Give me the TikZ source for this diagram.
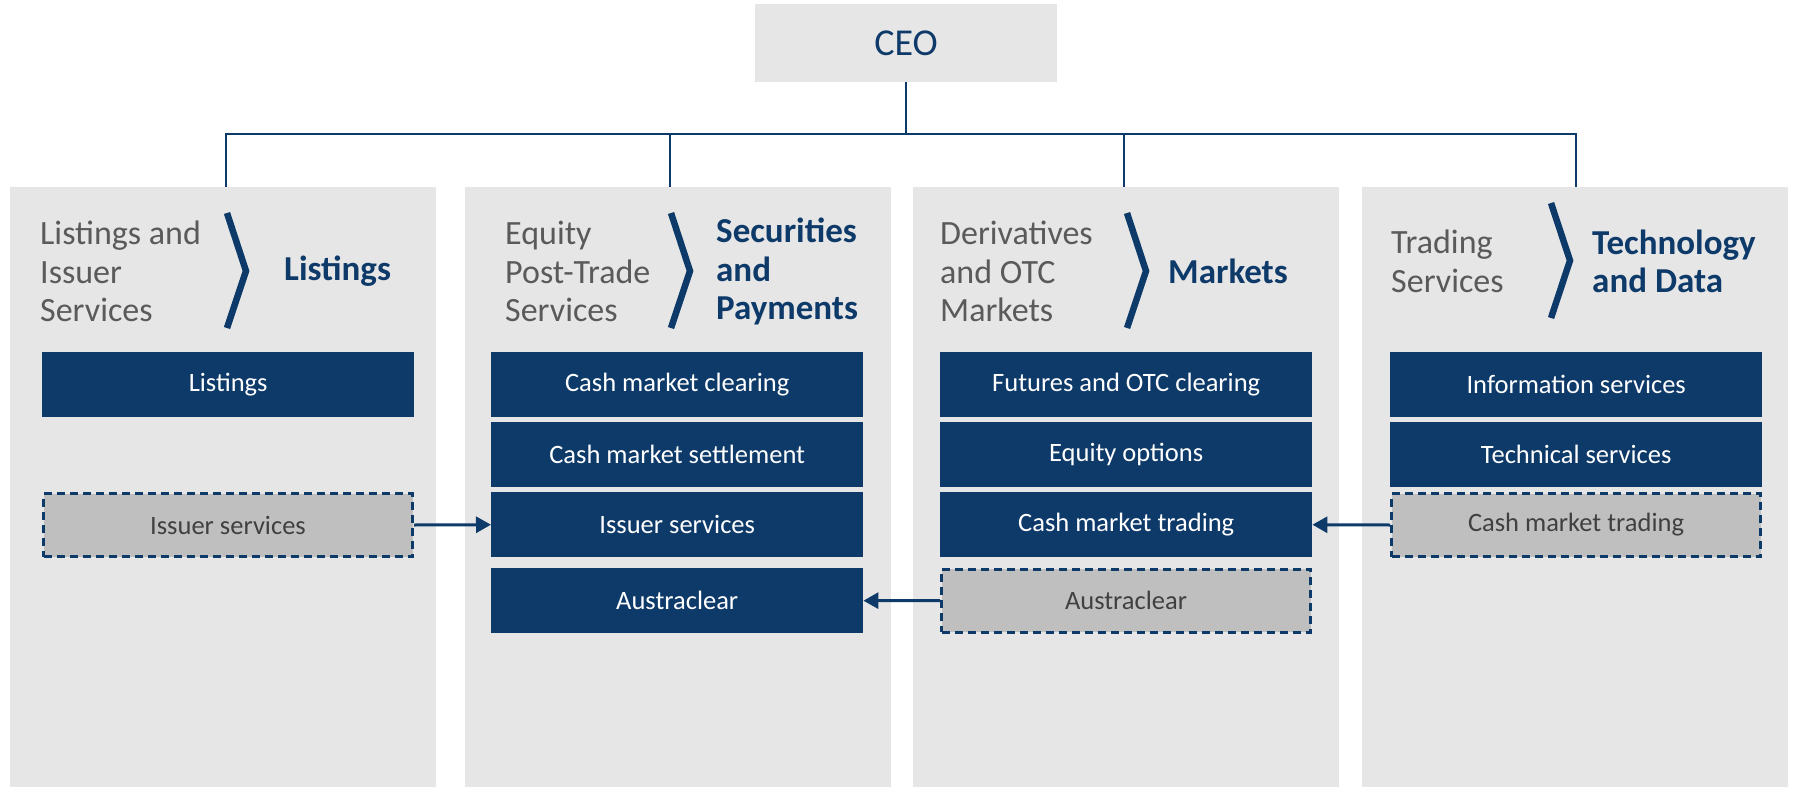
\documentclass[tikz,border=0pt]{standalone}
\usepackage{fontspec}
\setmainfont{Carlito}
\usetikzlibrary{arrows.meta}
\definecolor{navy}{RGB}{14,58,106}
\definecolor{bggray}{RGB}{230,230,230}
\definecolor{dgray}{RGB}{191,191,191}
\definecolor{hgray}{RGB}{90,90,90}
\definecolor{dtext}{RGB}{64,64,64}
\begin{document}
\begin{tikzpicture}[x=1pt,y=-1pt,
  col/.style={fill=bggray, minimum width=426pt, minimum height=600pt, inner sep=0pt, anchor=north west},
  sbox/.style={fill=navy, text=white, minimum width=372pt, minimum height=65pt, inner sep=0pt, anchor=north west, font=\fontsize{26.5}{30}\selectfont},
  dbox/.style={fill=dgray, draw=navy, line width=3pt, dash pattern=on 8pt off 5pt, text=dtext, minimum width=369pt, minimum height=63pt, inner sep=0pt, font=\fontsize{26.5}{30}\selectfont},
  tree/.style={draw=navy, line width=2.5pt},
  chev/.style={draw=navy, line width=6.5pt, miter limit=20},
  htxt/.style={anchor=west, align=left, text=hgray, inner sep=0pt, font=\fontsize{34}{38.5}\selectfont},
  btxt/.style={anchor=west, align=left, text=navy, inner sep=0pt, font=\fontsize{35}{38.5}\selectfont\bfseries},
  arr/.style={draw=navy, line width=3pt, -{Triangle[length=15pt,width=16pt]}}
]
\useasboundingbox (0,0) rectangle (1797,787);
\fill[white] (0,0) rectangle (1797,787);

% CEO
\node[fill=bggray, minimum width=302pt, minimum height=78pt, inner sep=0pt, text=navy, font=\fontsize{38}{42}\selectfont] (ceo) at (906,43) {CEO};

% columns
\node[col] (c1) at (10,187) {};
\node[col] (c2) at (465,187) {};
\node[col] (c3) at (913,187) {};
\node[col] (c4) at (1362,187) {};

% tree
\coordinate (hub) at (906,134);
\coordinate (d1) at (226,187);
\coordinate (d2) at (670,187);
\coordinate (d3) at (1124,187);
\coordinate (d4) at (1576,187);
\draw[tree] (ceo.south) -- (hub);
\draw[tree] (d1) -- (d1 |- hub) -- (d4 |- hub) -- (d4);
\draw[tree] (d2) -- (d2 |- hub);
\draw[tree] (d3) -- (d3 |- hub);

% headers
\node[htxt] (h1) at (40,271.5) {Listings and\\Issuer\\Services};
\node[btxt] (b1) at (284,271.5) {Listings};
\draw[chev] (227,213) -- (246,271) -- (227,328);

\node[htxt] (h2) at (505,271.5) {Equity\\Post-Trade\\Services};
\node[btxt] (b2) at (716,271.5) {Securities\\and\\Payments};
\draw[chev] (671,213) -- (690,271) -- (671,328);

\node[htxt] (h3) at (940,271.5) {Derivatives\\and OTC\\Markets};
\node[btxt] (b3) at (1168,271.5) {Markets};
\draw[chev] (1127,213) -- (1146,271) -- (1127,328);

\node[htxt] (h4) at (1391,261.5) {Trading\\Services};
\node[btxt] (b4) at (1592,261.5) {Technology\\and Data};
\draw[chev] (1551,203) -- (1570,260.5) -- (1551,318);

% column 1
\node[sbox] (lst) at (42,352) {Listings};
\node[dbox] (iss1) at (228,525) {Issuer services};

% column 2
\node[sbox] (cmc) at (491,352) {Cash market clearing};
\node[sbox] (cms) at (491,422) {Cash market settlement};
\node[sbox] (iss2) at (491,492) {Issuer services};
\node[sbox] (aus2) at (491,568) {Austraclear};

% column 3
\node[sbox] (fut) at (940,352) {Futures and OTC clearing};
\node[sbox] (eqo) at (940,422) {Equity options};
\node[sbox] (cmt3) at (940,492) {Cash market trading};
\node[dbox] (aus3) at (1126,600.5) {Austraclear};

% column 4
\node[sbox] (inf) at (1390,352) {Information services};
\node[sbox] (tec) at (1390,422) {Technical services};
\node[dbox] (cmt4) at (1576,525) {Cash market trading};

% arrows
\draw[arr] (iss1.east) -- (iss2.west);
\draw[arr] (cmt4.west) -- (cmt3.east);
\draw[arr] (aus3.west) -- (aus2.east);
\end{tikzpicture}
\end{document}
